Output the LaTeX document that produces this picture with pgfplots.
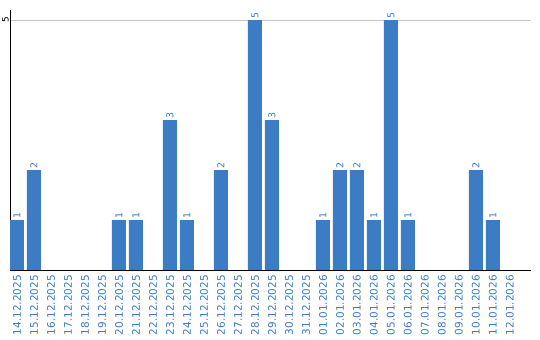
\documentclass[border=0pt]{standalone}
\usepackage{pgfplots}
\pgfplotsset{compat=1.18}
\usepackage{fontspec}
\setmainfont{DejaVu Sans}
\definecolor{barblue}{HTML}{3B7CC4}
\definecolor{lblblue}{HTML}{3A7BC8}
\begin{document}
\begin{tikzpicture}
\path[use as bounding box] (0,0) rectangle (540bp,340bp);
\begin{axis}[
  /pgf/number format/assume math mode=true,
  at={(10bp,70bp)}, anchor=south west,
  scale only axis, width=521bp, height=260bp,
  xmin=-0.41, xmax=30.24, ymin=0, ymax=5.2,
  axis x line=bottom, axis y line=left,
  axis line style={black, line width=1bp, -},
  ytick={5}, yticklabel style={rotate=90, font=\fontsize{9}{9}\selectfont, anchor=south, inner sep=1bp},
  ymajorgrids, grid style={gray!45, line width=0.8bp},
  major tick length=0pt,
  xtick={0,...,29},
  xticklabels={14.12.2025,15.12.2025,16.12.2025,17.12.2025,18.12.2025,19.12.2025,20.12.2025,21.12.2025,22.12.2025,23.12.2025,24.12.2025,25.12.2025,26.12.2025,27.12.2025,28.12.2025,29.12.2025,30.12.2025,31.12.2025,01.01.2026,02.01.2026,03.01.2026,04.01.2026,05.01.2026,06.01.2026,07.01.2026,08.01.2026,09.01.2026,10.01.2026,11.01.2026,12.01.2026},
  xticklabel style={rotate=90, anchor=east, font=\fontsize{10.5}{10.5}\selectfont, text=lblblue, inner sep=5bp},
  ybar, bar width=14bp, bar shift=0pt,
  nodes near coords,
  every node near coord/.append style={rotate=90, anchor=west, font=\fontsize{9.5}{9.5}\selectfont, text=lblblue, inner sep=1.5bp},
]
\addplot[fill=barblue, draw=none] coordinates {
(0,1) (1,2) (6,1) (7,1) (9,3) (10,1) (12,2) (14,5) (15,3)
(18,1) (19,2) (20,2) (21,1) (22,5) (23,1) (27,2) (28,1)};
\end{axis}
\end{tikzpicture}
\end{document}
